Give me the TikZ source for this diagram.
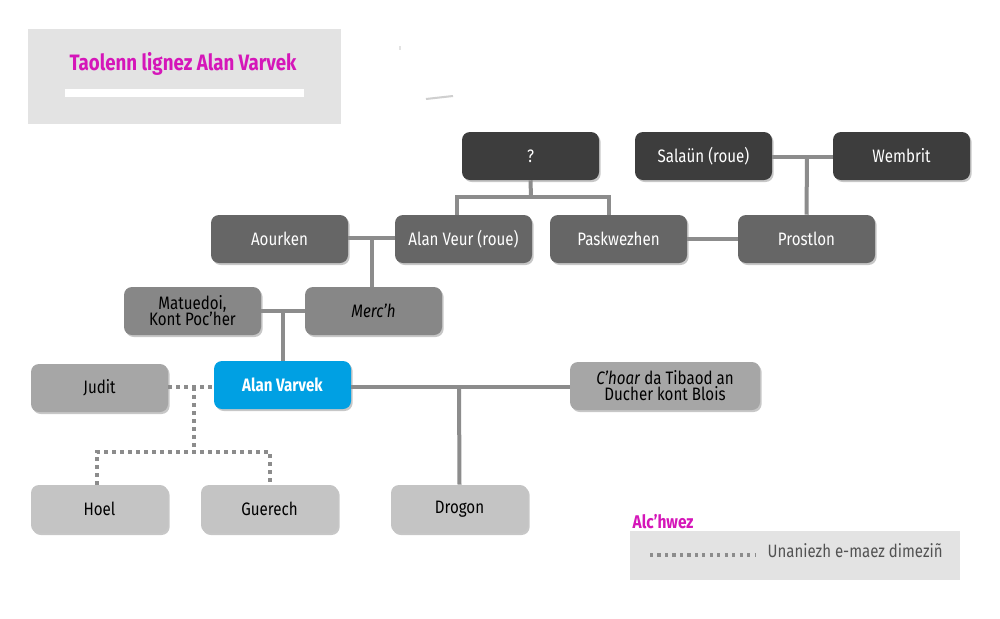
\documentclass[tikz,border=0pt]{standalone}
\usepackage{fontspec}
\setmainfont{Fira Sans}[FakeStretch=0.84]
\usetikzlibrary{shadows,calc}
\definecolor{dark}{HTML}{3D3D3D}
\definecolor{mid}{HTML}{666666}
\definecolor{midl}{HTML}{878787}
\definecolor{lite}{HTML}{A6A6A6}
\definecolor{pale}{HTML}{C4C4C4}
\definecolor{blu}{HTML}{00A0E3}
\definecolor{mag}{HTML}{D516B9}
\definecolor{boxbg}{HTML}{E3E3E3}
\definecolor{conn}{HTML}{8C8C8C}
\begin{document}
\begin{tikzpicture}[x=0.75pt,y=-0.75pt,
  person/.style={rounded corners=6pt,minimum width=102.75pt,minimum height=36pt,inner sep=0pt,
    align=center,font=\fontsize{13.5}{13}\selectfont,
    drop shadow={shadow xshift=1.2pt,shadow yshift=-1.5pt,opacity=0.22,fill=black}},
  gdark/.style={person,fill=dark,text=white},
  gmid/.style={person,fill=mid,text=white},
  gmidl/.style={person,fill=midl,text=black},
  glite/.style={person,fill=lite,text=black},
  gpale/.style={person,fill=pale,text=black},
  gme/.style={person,fill=blu,text=white,font=\fontsize{13.5}{13}\selectfont\bfseries},
  link/.style={draw=conn,line width=3pt},
  dotlink/.style={draw=conn,line width=3pt,dash pattern=on 3pt off 3pt}]
\useasboundingbox (0,0) rectangle (1000,618);
\fill[white] (0,0) rectangle (1000,618);
% title
\fill[boxbg] (28,29) rectangle (341,124);
\node[text=mag,font=\fontsize{16.7}{16}\selectfont\bfseries] (title) at (183,64) {Taolenn lignez Alan Varvek};
\fill[white] (65,89) rectangle (304,97);
\draw[boxbg!80!gray,line width=1.5pt] (426,99) -- (453,96);
\draw[boxbg,line width=1pt] (400,46) -- (400,50);
% nodes
\node[gdark] (q) at (530.5,156) {?};
\node[gdark] (sal) at (703.5,156) {Salaün (roue)};
\node[gdark] (wem) at (901.5,156) {Wembrit};
\node[gmid] (aou) at (279.5,239) {Aourken};
\node[gmid] (veur) at (463.5,239) {Alan Veur (roue)};
\node[gmid] (pask) at (618.5,239) {Paskwezhen};
\node[gmid] (prost) at (806.5,239) {Prostlon};
\node[gmidl] (mat) at (192.5,311) {Matuedoi,\\[-1pt]Kont Poc'her};
\node[gmidl] (merch) at (373.5,311) {\itshape Merc'h};
\node[glite] (judit) at (99.5,388) {Judit};
\node[gme] (av) at (282.5,385) {Alan Varvek};
\node[glite,minimum width=142.5pt] (choar) at (665,386) {\textit{C'hoar} da Tibaod an\\[-1pt]Ducher kont Blois};
\node[gpale] (hoel) at (99.5,509) {Hoel};
\node[gpale] (guer) at (269.5,509) {Guerech};
\node[gpale] (drog) at (459.5,509) {Drogon};
% connectors
\coordinate (j1) at (531,197);
\draw[link] (q.south) -- (j1);
\draw[link] ($(veur.north)+(-6.5,0)$) |- (j1) -| ($(pask.north)+(-9.5,0)$);
\coordinate (j2) at (807,157);
\draw[link] (sal.east |- j2) -- (wem.west |- j2);
\draw[link] (j2) -- (prost.north);
\draw[link] (pask.east) -- (prost.west);
\coordinate (j3) at (372,238);
\draw[link] (aou.east |- j3) -- (veur.west |- j3);
\draw[link] (j3) -- (j3 |- merch.north);
\coordinate (j4) at (283,311);
\draw[link] (mat.east |- j4) -- (merch.west |- j4);
\draw[link] (j4) -- (j4 |- av.north);
\coordinate (j5) at (459,387);
\draw[link] (av.east |- j5) -- (choar.west |- j5);
\draw[link] (j5) -- (drog.north);
\coordinate (j6) at (194,387);
\coordinate (j7) at (194,452);
\draw[dotlink] (judit.east |- j6) -- (av.west |- j6);
\draw[dotlink] (j6) -- (j7);
\draw[dotlink] ($(hoel.north)+(-2.5,0)$) |- (j7) -| ($(guer.north)+(0.5,0)$);
% legend
\node[text=mag,font=\fontsize{13.8}{13}\selectfont\bfseries,anchor=west] (key) at (628,522) {Alc'hwez};
\fill[boxbg] (630,531) rectangle (960,580);
\coordinate (d1) at (650,555);
\coordinate (d2) at (755,555);
\draw[draw=conn,line width=2.4pt,dash pattern=on 2.4pt off 3.2pt] (d1) -- (d2);
\node[text=black!68,font=\fontsize{13.4}{13}\selectfont,anchor=west] (keytxt) at (763,551) {Unaniezh e-maez dimeziñ};
\end{tikzpicture}
\end{document}
